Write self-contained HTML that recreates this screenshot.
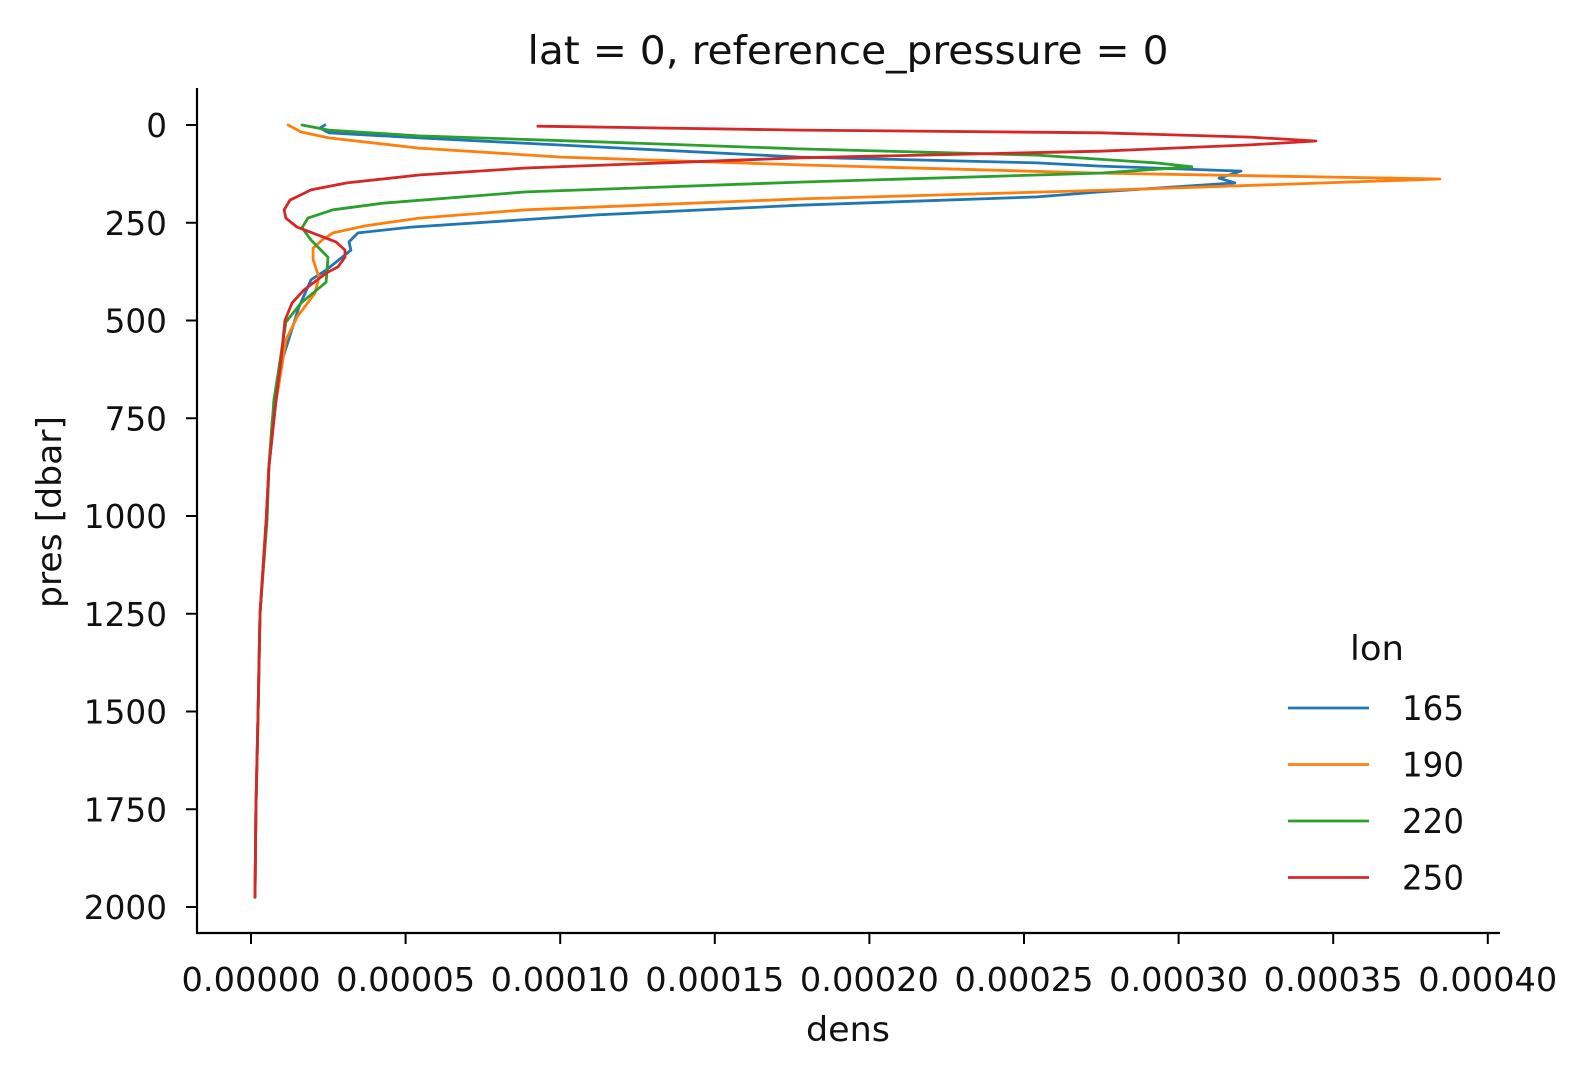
<!DOCTYPE html>
<html><head><meta charset="utf-8"><style>
html,body{margin:0;padding:0;background:#fff;}
svg{display:block;font-family:"DejaVu Sans","Liberation Sans",sans-serif;}
</style></head><body>
<svg id="chart" width="1586" height="1080" viewBox="0 0 1586 1080">
<rect width="1586" height="1080" fill="#fff"/>
<text x="848" y="64" font-size="39" text-anchor="middle" fill="#111" textLength="641" lengthAdjust="spacingAndGlyphs">lat = 0, reference_pressure = 0</text>
<g id="series"></g>
<g id="axes"></g>
<text x="848" y="1041" font-size="34" text-anchor="middle" fill="#111" textLength="84" lengthAdjust="spacingAndGlyphs">dens</text>
<text transform="translate(61,512) rotate(-90)" font-size="34" text-anchor="middle" fill="#111" textLength="192" lengthAdjust="spacingAndGlyphs">pres [dbar]</text>
<g id="legend"></g>
</svg>
<script>
const xTicks = [0, 0.00005, 0.0001, 0.00015, 0.0002, 0.00025, 0.0003, 0.00035, 0.0004];
const xTickLabels = ["0.00000","0.00005","0.00010","0.00015","0.00020","0.00025","0.00030","0.00035","0.00040"];
const yTicks = [0,250,500,750,1000,1250,1500,1750,2000];
const seriesNames = ["165","190","220","250"];
const seriesColors = ["#1f77b4","#ff7f0e","#2ca02c","#d62728"];
// dens values in units of 1e-5
const dens165 = [2.39,2.23,2.52,5.43,11.19,17.76,25.42,27.46,32.02,31.31,31.82,27.46,25.42,17.76,11.19,5.17,3.46,3.17,3.23,2.43,1.94,1.55,1.04,0.81,0.58,0.49,0.29,0.23,0.16,0.13];
const pres165 = [0,8,20,33,56,82,97,105,118,136,148,171,184,205,230,261,276,299,320,371,396,466,593,703,875,1010,1250,1500,1750,1975];
const dens190 = [1.20,1.62,2.52,5.43,10.03,17.76,27.46,38.45,27.98,17.76,8.89,5.43,3.69,2.65,2.30,2.01,2.01,2.20,2.07,1.49,1.13,0.91,0.68,0.58,0.49,0.29,0.23,0.16,0.13];
const pres190 = [0,18,33,59,82,102,123,138,166,189,217,238,258,276,294,315,345,389,430,491,550,660,762,875,1010,1250,1500,1750,1975];
const dens220 = [1.65,2.52,5.43,11.19,17.76,25.42,29.27,30.43,27.46,25.42,17.76,8.89,4.27,2.65,1.84,1.65,1.94,2.49,2.43,1.62,1.13,0.91,0.74,0.58,0.52,0.29,0.23,0.16,0.13];
const pres220 = [0,13,28,43,61,77,97,107,123,128,146,171,200,217,238,263,294,338,402,455,504,619,703,875,1010,1250,1500,1750,1975];
const dens250 = [9.28,17.76,27.46,32.31,34.44,32.31,27.46,17.76,8.89,5.43,3.10,1.94,1.26,1.07,1.13,1.49,2.75,3.04,3.04,2.81,2.43,1.71,1.33,1.10,0.97,0.81,0.58,0.49,0.29,0.23,0.16,0.13];
const pres250 = [3,13,20,31,41,51,67,84,110,128,148,166,192,217,238,261,299,320,338,363,379,422,455,499,601,703,875,1010,1250,1500,1750,1975];

const NS = "http://www.w3.org/2000/svg";
const X0 = 251, XPX = 30.92*1e5;
const Y0 = 125, YPX = 97.75/250;
function xScale(v){ return X0 + v*XPX; }
function yScale(p){ return Y0 + p*YPX; }
function mk(tag, attrs, parent){ const e=document.createElementNS(NS,tag); for(const k in attrs) e.setAttribute(k,attrs[k]); parent.appendChild(e); return e; }

const axes = document.getElementById('axes');
const sp1 = mk('line',{x1:197,y1:88,x2:197,y2:933,stroke:'#000','stroke-width':2.2},axes);


const sp2 = mk('line',{x1:196,y1:933,x2:1500,y2:933,stroke:'#000','stroke-width':2.2},axes);


xTicks.forEach((t,i)=>{
  const x = xScale(t);
  const tk = mk('line',{x1:x,y1:933,x2:x,y2:944,stroke:'#000','stroke-width':2},axes);
  
  
  const lb = mk('text',{x:x,y:991,'font-size':33,'text-anchor':'middle',fill:'#111',textLength:139,lengthAdjust:'spacingAndGlyphs'},axes);
  lb.textContent = xTickLabels[i];
  
  
});
yTicks.forEach(t=>{
  const y = yScale(t);
  const tk = mk('line',{x1:186,y1:y,x2:197,y2:y,stroke:'#000','stroke-width':2},axes);
  
  
  const lb = mk('text',{x:167,y:y+12,'font-size':33,'text-anchor':'end',fill:'#111'},axes);
  lb.textContent = String(t);
  lb.setAttribute('textLength', String(String(t).length*20.8));
  lb.setAttribute('lengthAdjust','spacingAndGlyphs');
  
  
});

const series = document.getElementById('series');
const dsets = [[dens165,pres165],[dens190,pres190],[dens220,pres220],[dens250,pres250]];
dsets.forEach((d,i)=>{
  const pts = d[0].map((v,j)=> xScale(v*1e-5).toFixed(1)+','+yScale(d[1][j]).toFixed(1)).join(' ');
  const pl = mk('polyline',{points:pts,fill:'none',stroke:seriesColors[i],'stroke-width':2.8,'stroke-linejoin':'round','stroke-linecap':'round'},series);
  
  
});

const legend = document.getElementById('legend');
const lt = mk('text',{x:1377,y:660,'font-size':34,'text-anchor':'middle',fill:'#111',textLength:54,lengthAdjust:'spacingAndGlyphs'},legend);
lt.textContent = 'lon';


seriesNames.forEach((n,i)=>{
  const y = 708 + i*56.5;
  const ln = mk('line',{x1:1288,y1:y,x2:1369,y2:y,stroke:seriesColors[i],'stroke-width':2.8},legend);
  
  
  const tx = mk('text',{x:1402,y:y+12,'font-size':34,fill:'#111',textLength:62,lengthAdjust:'spacingAndGlyphs'},legend);
  tx.textContent = n;
  
  
});
</script>
</body></html>
